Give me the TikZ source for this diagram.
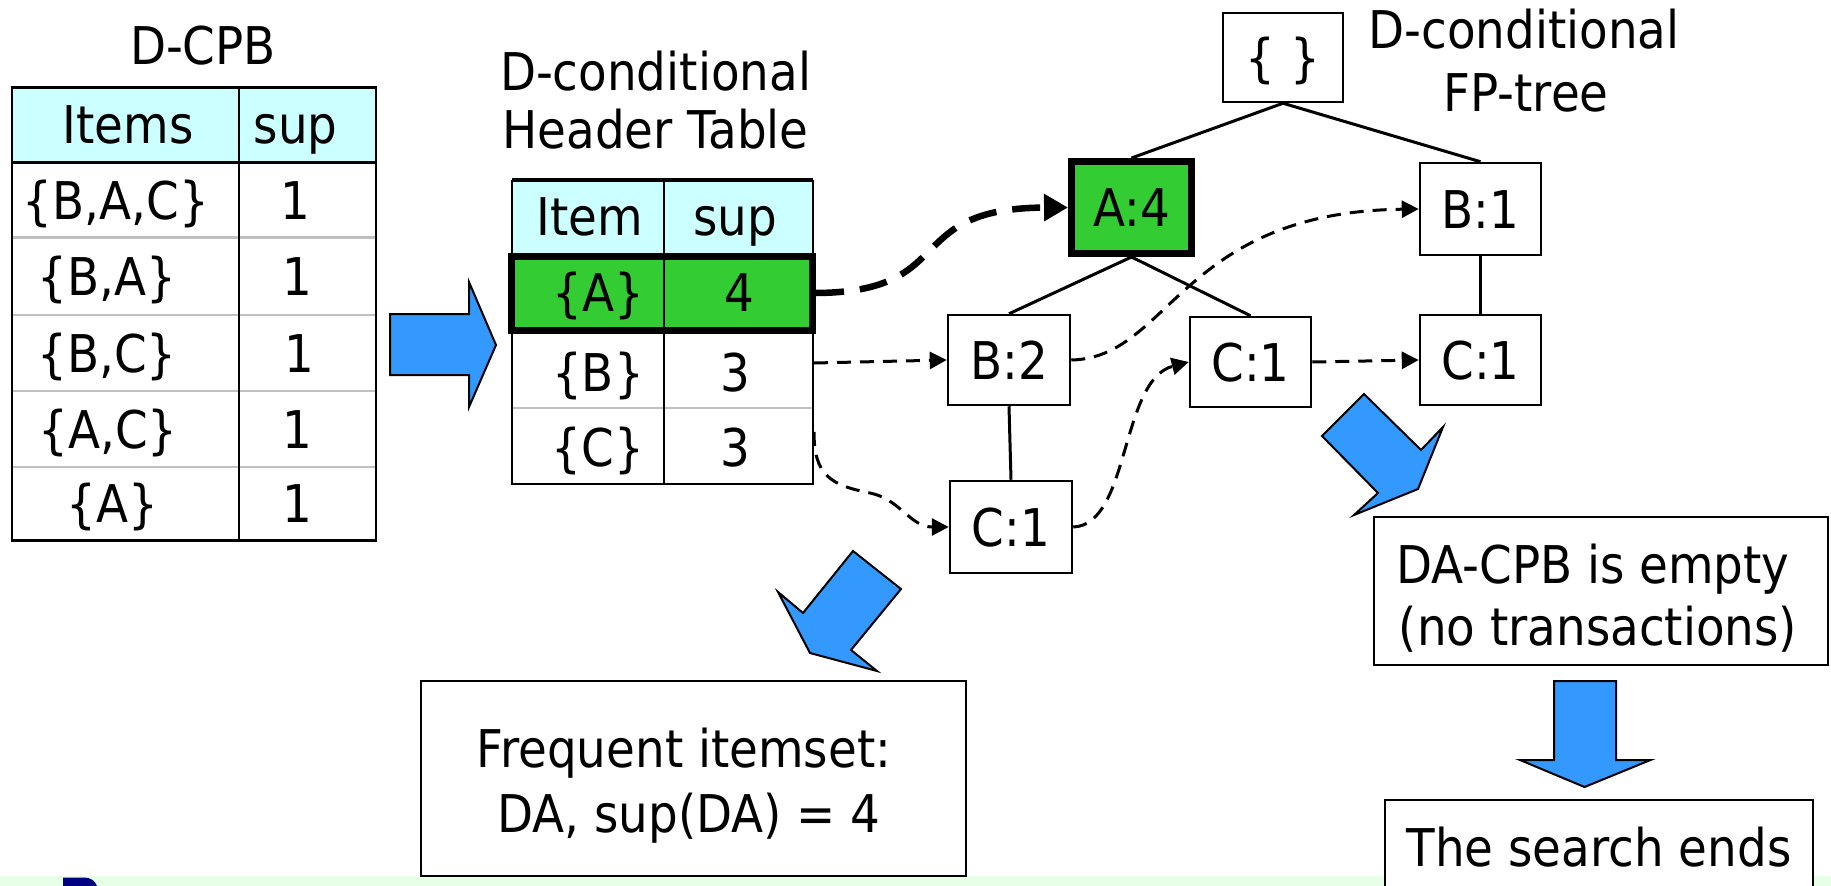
\documentclass[tikz,border=0pt]{standalone}
\usepackage{fontspec}
\setmainfont{DejaVu Sans}[FakeStretch=0.9]
\usetikzlibrary{arrows.meta}
\definecolor{hdrcyan}{HTML}{CCFFFF}
\definecolor{selgreen}{HTML}{33CC33}
\definecolor{arrowblue}{HTML}{3399FF}
\definecolor{bandgreen}{HTML}{E6FFE6}
\definecolor{rowgray}{HTML}{C0C0C0}
\definecolor{navyfrag}{HTML}{000080}
\tikzset{
  lbl/.style={font=\fontsize{52}{62}\selectfont, inner sep=0pt, outer sep=0pt},
  cell/.style={lbl, text height=38pt, text depth=0pt, anchor=center},
  basetxt/.style={lbl, anchor=base},
  treebox/.style={draw, line width=2.5pt, fill=white, font=\fontsize{52}{62}\selectfont,
    text height=38pt, text depth=0pt, inner sep=0pt, minimum width=121pt, minimum height=90pt},
  msgbox/.style={draw, line width=2.5pt, fill=white, inner sep=0pt},
  treeline/.style={line width=3pt},
  dconn/.style={line width=3pt, dash pattern=on 14pt off 9pt, -{Triangle[length=17pt,width=17pt]}},
  dthick/.style={line width=6.5pt, dash pattern=on 28pt off 16pt, -{Triangle[length=24pt,width=26pt]}},
  barrow/.style={fill=arrowblue, draw=black, line width=2pt, line join=miter}
}
\begin{document}
\begin{tikzpicture}[x=1pt,y=-1pt]
\useasboundingbox (0,0) rectangle (1831,886);
\fill[white] (0,0) rectangle (1831,886);
\fill[bandgreen] (0,876) rectangle (1831,886);
\fill[navyfrag] (63,877.5) -- (84,877.5) .. controls (91,877.5) and (95,881) .. (97,886) -- (63,886) -- cycle;

% ---------- D-CPB table ----------
\node[basetxt] (tcpb) at (203,64) {D-CPB};
\fill[hdrcyan] (12,87.5) rectangle (376,162.5);
\foreach \yy in {237.5,315,391,467} \draw[rowgray, line width=2.5pt] (12,\yy) -- (376,\yy);
\draw[line width=2.5pt] (12,87.5) -- (12,540) (239,87.5) -- (239,540) (376,87.5) -- (376,540);
\draw[line width=3.5pt] (10.75,87.5) -- (377.25,87.5);
\draw[line width=3pt] (12,162.5) -- (376,162.5);
\draw[line width=3pt] (10.75,540) -- (377.25,540);
\node[cell] (lh1) at (128,124) {Items};
\node[cell] (lh2) at (295.5,124) {sup};
\node[cell] (l11) at (116,200) {\{B,A,C\}};
\node[cell] (l12) at (295,200) {1};
\node[cell] (l21) at (107,276) {\{B,A\}};
\node[cell] (l22) at (297,276) {1};
\node[cell] (l31) at (107,353) {\{B,C\}};
\node[cell] (l32) at (299,353) {1};
\node[cell] (l41) at (108,429) {\{A,C\}};
\node[cell] (l42) at (297,429) {1};
\node[cell] (l51) at (112.5,503.5) {\{A\}};
\node[cell] (l52) at (297,503.5) {1};

% ---------- Header table ----------
\node[basetxt] (th1) at (655.5,90) {D-conditional};
\node[basetxt] (th2) at (655.5,148) {Header Table};
\fill[hdrcyan] (512,180) rectangle (813,253);
\fill[selgreen] (512,253) rectangle (813,334);
\draw[rowgray, line width=2.5pt] (512,408) -- (813,408);
\draw[line width=2.5pt] (512,180) -- (512,484) (664,180) -- (664,484) (813,180) -- (813,484);
\draw[line width=4pt] (512,180) -- (813,180);
\draw[line width=2.5pt] (510.75,484) -- (814.25,484);
\draw[line width=7pt] (511.5,256.5) rectangle (812.5,330.5);
\node[cell] (hh1) at (590,216) {Item};
\node[cell] (hh2) at (735,216) {sup};
\node[cell] (ha1) at (598.5,292) {\{A\}};
\node[cell] (ha2) at (739,292) {4};
\node[cell] (hb1) at (598,372) {\{B\}};
\node[cell] (hb2) at (735.5,372) {3};
\node[cell] (hc1) at (598,447) {\{C\}};
\node[cell] (hc2) at (735.5,447) {3};
\coordinate (rowA) at (816,293);
\coordinate (rowB) at (814,363);
\coordinate (rowC) at (814,432);

% ---------- right arrow ----------
\filldraw[barrow] (390,314) -- (469,314) -- (469,282) -- (496,345) -- (469,407) -- (469,375) -- (390,375) -- cycle;

% ---------- FP-tree ----------
\node[basetxt] (tf1) at (1524,48) {D-conditional};
\node[basetxt] (tf2) at (1526,111) {FP-tree};
\node[treebox, minimum width=120pt, minimum height=89pt] (root) at (1283,57.5) {\{ \}};
\node[treebox, fill=selgreen, line width=7pt, minimum width=120pt, minimum height=92pt] (a4) at (1131.5,207.5) {A:4};
\node[treebox, minimum height=92pt] (b1) at (1480.5,209) {B:1};
\node[treebox, minimum width=122pt] (b2) at (1009,360) {B:2};
\node[treebox] (c1m) at (1250.5,362) {C:1};
\node[treebox] (c1r) at (1480.5,360) {C:1};
\node[treebox, minimum width=122pt, minimum height=92pt] (c1b) at (1011,527) {C:1};
\draw[treeline] (root.south) -- (a4.north);
\draw[treeline] (root.south) -- (b1.north);
\draw[treeline] (a4.south) -- (b2.north);
\draw[treeline] (a4.south) -- (c1m.north);
\draw[treeline] (b2.south) -- (c1b.north);
\draw[treeline] (b1.south) -- (c1r.north);

% ---------- dashed node links ----------
\draw[dthick] (rowA) .. controls (960,292) and (900,208) .. (a4.west);
\draw[dconn] (rowB) -- (b2.west);
\draw[dconn] (b2.east) .. controls (1170,358) and (1180,212) .. (b1.west);
\draw[dconn] (rowC) .. controls (814,475) and (830,485) .. (870,493) .. controls (900,499) and (910,527) .. (c1b.west);
\draw[dconn] (c1b.east) .. controls (1130,525) and (1120,380) .. (c1m.west);
\draw[dconn] (c1m.east) -- (c1r.west);

% ---------- result boxes ----------
\filldraw[barrow] (853,551) -- (901,589) -- (851,650) -- (877,671) -- (810,653) -- (778,592) -- (803,613) -- cycle;
\node[msgbox, minimum width=545pt, minimum height=195pt] (freqbox) at (693.5,778.5) {};
\node[basetxt] (fq1) at (684,767) {Frequent itemset:};
\node[basetxt] (fq2) at (689,832) {DA, sup(DA) = 4};

\filldraw[barrow] (1364,394) -- (1322,436) -- (1378,493) -- (1354,515) -- (1418,489) -- (1443,427) -- (1421,450) -- cycle;
\node[msgbox, minimum width=454pt, minimum height=148pt] (dabox) at (1601,591) {};
\node[basetxt] (da1) at (1593,583) {DA-CPB is empty};
\node[basetxt] (da2) at (1598,645) {(no transactions)};

\filldraw[barrow] (1554,681) -- (1616,681) -- (1616,760) -- (1650.5,760) -- (1584.5,787) -- (1520,760) -- (1554,760) -- cycle;
\node[msgbox, minimum width=428pt, minimum height=110pt] (endbox) at (1599,855) {};
\node[basetxt] (se) at (1599,866) {The search ends};
\end{tikzpicture}
\end{document}
